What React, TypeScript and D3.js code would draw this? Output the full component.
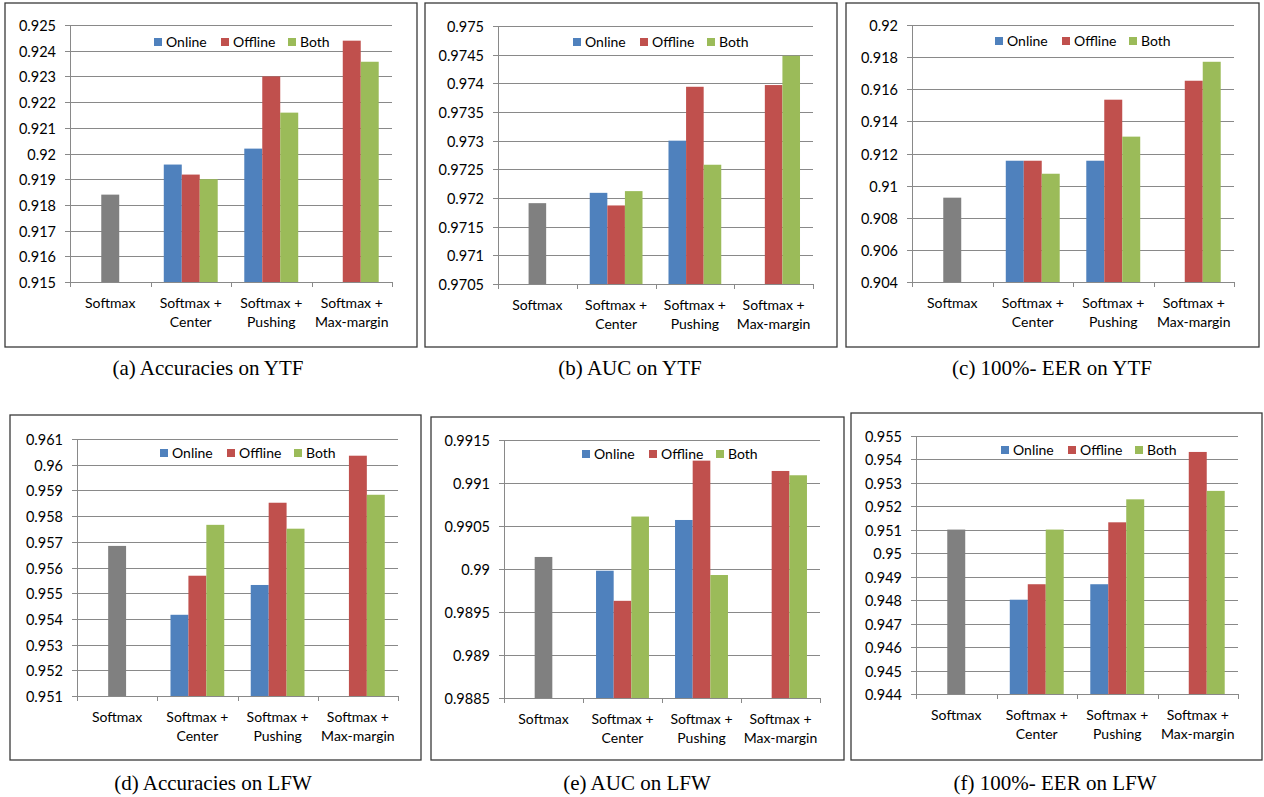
import { useEffect, useRef } from 'react';
import * as d3 from 'd3';

const W = 1264;
const H = 797;

const categories = [['Softmax'], ['Softmax +', 'Center'], ['Softmax +', 'Pushing'], ['Softmax +', 'Max-margin']];
const seriesNames = ['Online', 'Offline', 'Both'];
const seriesColors = ['#4F81BD', '#C0504D', '#9BBB59'];
const baselineColor = '#808080';

// each panel: online / offline / both per category (softmax sits in the middle slot)
const ytfAccOnline = [null, 0.91957, 0.92019, null];
const ytfAccOffline = [0.9184, 0.91918, 0.923, 0.92439];
const ytfAccBoth = [null, 0.919, 0.92159, 0.92357];
const ytfAccTicks = ['0.915', '0.916', '0.917', '0.918', '0.919', '0.92', '0.921', '0.922', '0.923', '0.924', '0.925'];

const ytfAucOnline = [null, 0.97209, 0.973, null];
const ytfAucOffline = [0.97191, 0.97187, 0.97394, 0.97397];
const ytfAucBoth = [null, 0.97212, 0.97258, 0.97448];
const ytfAucTicks = ['0.9705', '0.971', '0.9715', '0.972', '0.9725', '0.973', '0.9735', '0.974', '0.9745', '0.975'];

const ytfEerOnline = [null, 0.91155, 0.91155, null];
const ytfEerOffline = [0.90925, 0.91155, 0.91535, 0.91653];
const ytfEerBoth = [null, 0.91074, 0.91305, 0.91771];
const ytfEerTicks = ['0.904', '0.906', '0.908', '0.91', '0.912', '0.914', '0.916', '0.918', '0.92'];

const lfwAccOnline = [null, 0.95416, 0.95532, null];
const lfwAccOffline = [0.95684, 0.95568, 0.95852, 0.96035];
const lfwAccBoth = [null, 0.95766, 0.95751, 0.95883];
const lfwAccTicks = ['0.951', '0.952', '0.953', '0.954', '0.955', '0.956', '0.957', '0.958', '0.959', '0.96', '0.961'];

const lfwAucOnline = [null, 0.98998, 0.99057, null];
const lfwAucOffline = [0.99014, 0.98963, 0.99126, 0.99114];
const lfwAucBoth = [null, 0.99061, 0.98993, 0.99109];
const lfwAucTicks = ['0.9885', '0.989', '0.9895', '0.99', '0.9905', '0.991', '0.9915'];

const lfwEerOnline = [null, 0.94802, 0.94868, null];
const lfwEerOffline = [0.95101, 0.94868, 0.95132, 0.95432];
const lfwEerBoth = [null, 0.95101, 0.9523, 0.95266];
const lfwEerTicks = ['0.944', '0.945', '0.946', '0.947', '0.948', '0.949', '0.95', '0.951', '0.952', '0.953', '0.954', '0.955'];

const captions = [
  '(a) Accuracies on YTF',
  '(b) AUC on YTF',
  '(c) 100%- EER on YTF',
  '(d) Accuracies on LFW',
  '(e) AUC on LFW',
  '(f) 100%- EER on LFW',
];

const panelData = [
  { series: [ytfAccOnline, ytfAccOffline, ytfAccBoth], ticks: ytfAccTicks },
  { series: [ytfAucOnline, ytfAucOffline, ytfAucBoth], ticks: ytfAucTicks },
  { series: [ytfEerOnline, ytfEerOffline, ytfEerBoth], ticks: ytfEerTicks },
  { series: [lfwAccOnline, lfwAccOffline, lfwAccBoth], ticks: lfwAccTicks },
  { series: [lfwAucOnline, lfwAucOffline, lfwAucBoth], ticks: lfwAucTicks },
  { series: [lfwEerOnline, lfwEerOffline, lfwEerBoth], ticks: lfwEerTicks },
];

// layout: frame box, plot box, legend origin, caption position
const layout = [
  { frame: [5, 3, 417, 347], plot: [70, 25, 392, 282], legend: [154, 42], caption: [208, 375] },
  { frame: [425, 3, 837, 347], plot: [498, 26, 813, 284], legend: [573, 42], caption: [630, 375] },
  { frame: [846, 3, 1259, 347], plot: [912, 25, 1234, 282], legend: [995, 41], caption: [1052, 375] },
  { frame: [10, 415, 421, 760], plot: [77, 439, 398, 696], legend: [160, 453], caption: [213, 790] },
  { frame: [431, 417, 844, 760], plot: [504, 440, 820, 698], legend: [582, 454], caption: [637, 790] },
  { frame: [851, 413, 1262, 760], plot: [916, 436, 1238, 694], legend: [1001, 450], caption: [1055, 790] },
];

const labelFont = 'Lato, "Open Sans", sans-serif';
const gridColor = '#898989';

export default function App() {
  const svgRef = useRef<SVGSVGElement>(null);

  useEffect(() => {
    if (!svgRef.current) return;
    const svg = d3.select(svgRef.current);
    svg.selectAll('*').remove();

    svg.append('rect').attr('width', W).attr('height', H).attr('fill', '#fff');

    panelData.forEach((panel, pi) => {
      const L = layout[pi];
      const [fx0, fy0, fx1, fy1] = L.frame;
      const [px0, py0, px1, py1] = L.plot;
      const g = svg.append('g');

      g.append('rect')
        .attr('x', fx0)
        .attr('y', fy0)
        .attr('width', fx1 - fx0)
        .attr('height', fy1 - fy0)
        .attr('fill', '#fff')
        .attr('stroke', '#3a3a3a')
        .attr('stroke-width', 1.3);

      const tickVals = panel.ticks.map(Number);
      const y = d3.scaleLinear()
        .domain([tickVals[0], tickVals[tickVals.length - 1]])
        .range([py1, py0]);

      const x0 = d3.scaleBand<number>()
        .domain(d3.range(categories.length))
        .range([px0, px1])
        .padding(0);
      const groupW = x0.bandwidth() * 0.67;
      const x1 = d3.scaleBand<number>()
        .domain(d3.range(seriesNames.length))
        .range([0, groupW]);

      // gridlines
      g.selectAll('line.grid')
        .data(tickVals.slice(1))
        .join('line')
        .attr('x1', px0)
        .attr('x2', px1)
        .attr('y1', d => Math.round(y(d)) + 0.5)
        .attr('y2', d => Math.round(y(d)) + 0.5)
        .attr('stroke', gridColor)
        .attr('stroke-width', 1);

      // y tick labels and tick marks
      panel.ticks.forEach((t, i) => {
        const yy = Math.round(y(tickVals[i])) + 0.5;
        g.append('line')
          .attr('x1', px0 - 5)
          .attr('x2', px0)
          .attr('y1', yy)
          .attr('y2', yy)
          .attr('stroke', gridColor);
        g.append('text')
          .attr('x', px0 - 14)
          .attr('y', yy + 5)
          .attr('text-anchor', 'end')
          .attr('font-family', labelFont)
          .attr('font-size', 14.5)
          .attr('fill', '#000')
          .text(t);
      });

      // bars
      panel.series.forEach((vals, si) => {
        vals.forEach((v, ci) => {
          if (v == null) return;
          const bx = (x0(ci) as number) + (x0.bandwidth() - groupW) / 2 + (x1(si) as number);
          const color = ci === 0 ? baselineColor : seriesColors[si];
          g.append('rect')
            .attr('x', bx)
            .attr('y', y(v))
            .attr('width', x1.bandwidth())
            .attr('height', py1 - y(v))
            .attr('fill', color);
        });
      });

      // axes lines
      g.append('line')
        .attr('x1', px0 + 0.5)
        .attr('x2', px0 + 0.5)
        .attr('y1', py0)
        .attr('y2', py1)
        .attr('stroke', gridColor);
      g.append('line')
        .attr('x1', px0)
        .attr('x2', px1)
        .attr('y1', Math.round(py1) + 0.5)
        .attr('y2', Math.round(py1) + 0.5)
        .attr('stroke', gridColor);
      d3.range(categories.length + 1).forEach(i => {
        const xx = Math.round(px0 + i * x0.bandwidth()) + 0.5;
        g.append('line')
          .attr('x1', xx)
          .attr('x2', xx)
          .attr('y1', py1)
          .attr('y2', py1 + 5)
          .attr('stroke', gridColor);
      });

      // category labels
      categories.forEach((lines, ci) => {
        const cx = (x0(ci) as number) + x0.bandwidth() / 2;
        lines.forEach((line, li) => {
          g.append('text')
            .attr('x', cx)
            .attr('y', py1 + 26 + li * 19)
            .attr('text-anchor', 'middle')
            .attr('font-family', labelFont)
            .attr('font-size', 14)
            .attr('fill', '#000')
            .text(line);
        });
      });

      // legend
      const [lx, ly] = L.legend;
      seriesNames.forEach((name, si) => {
        const sx = lx + si * 67;
        g.append('rect')
          .attr('x', sx)
          .attr('y', ly - 4)
          .attr('width', 8)
          .attr('height', 8)
          .attr('fill', seriesColors[si]);
        g.append('text')
          .attr('x', sx + 12)
          .attr('y', ly + 5)
          .attr('font-family', labelFont)
          .attr('font-size', 14)
          .attr('fill', '#000')
          .text(name);
      });

      // caption
      svg.append('text')
        .attr('x', L.caption[0])
        .attr('y', L.caption[1])
        .attr('text-anchor', 'middle')
        .attr('font-family', '"Liberation Serif", "DejaVu Serif", serif')
        .attr('font-size', 21)
        .attr('fill', '#000')
        .text(captions[pi]);
    });
  }, []);

  return (
    <svg
      ref={svgRef}
      width={W}
      height={H}
      style={{ position: 'absolute', left: 0, top: 0, display: 'block' }}
    />
  );
}
